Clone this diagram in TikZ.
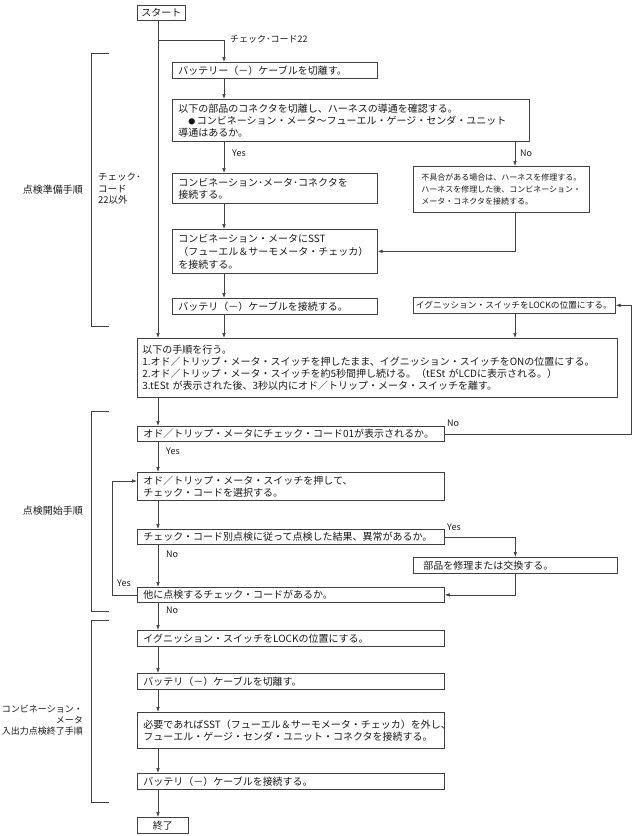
\documentclass[tikz,border=0pt]{standalone}
\usepackage{fontspec}
\setmainfont{Noto Sans CJK JP}
\usetikzlibrary{arrows.meta}
\newcommand\myfs{\fontsize{10}{12}\selectfont}
\newcommand\mysmall{\fontsize{8}{12}\selectfont}
\newcommand\mylab{\fontsize{9}{11}\selectfont}
\newcommand\boxat[7][]{%
  \pgfmathsetmacro\bxw{#5-#3-12}%
  \pgfmathsetmacro\bxh{#6-#4}%
  \node[bx, text width=\bxw pt, minimum height=\bxh pt, #1] (#2) at (#3,#4) {#7};}
\tikzset{
  ln/.style={draw=black!75, line width=0.7pt},
  arr/.style={ln, -{Latex[length=5pt,width=3.6pt]}},
  bx/.style={draw=black!75, line width=0.7pt, anchor=north west, align=left,
    inner xsep=6pt, inner ysep=0pt, font=\myfs, text=black!90},
  term/.style={draw=black!75, line width=0.7pt, anchor=north west, align=center,
    inner sep=0pt, font=\myfs, text=black!90},
  lbl/.style={font=\mylab, inner sep=0pt, text=black!90},
}
\begin{document}
\begin{tikzpicture}[x=1pt,y=-1pt]
\useasboundingbox (0,0) rectangle (634,836);
% column coordinates
\coordinate (cA) at (158,0);
\coordinate (cB) at (224,0);
\coordinate (cC) at (515,0);
\coordinate (cR) at (631,0);
\coordinate (cL) at (112,481);
\coordinate (j22) at (158,40);
% boxes
\node[term, minimum width=48pt, minimum height=15pt] (start) at (137,5) {スタート};
\boxat{bat1}{172}{62}{377}{78}{バッテリー（－）ケーブルを切離す。}
\boxat{chk}{172}{99}{529}{141}{以下の部品のコネクタを切離し、ハーネスの導通を確認する。\\\hspace*{1em}{\fontsize{7}{12}\selectfont ●}\hspace{0.15em}コンビネーション・メータ〜フューエル・ゲージ・センダ・ユニット\\導通はあるか。}
\boxat{con}{172}{173}{377}{203}{コンビネーション･メータ･コネクタを\\接続する。}
\boxat[inner xsep=8pt, text width=160pt, font=\mysmall]{fix}{413}{166}{589}{212}{不具合がある場合は、ハーネスを修理する。\\ハーネスを修理した後、コンビネーション・\\メータ・コネクタを接続する。}
\boxat[font=\fontsize{10}{13}\selectfont]{sst}{172}{229}{377}{273}{コンビネーション・メータにSST\\（フューエル＆サーモメータ・チェッカ）\\を接続する。}
\boxat{bat2}{172}{298}{377}{314}{バッテリ（－）ケーブルを接続する。}
\boxat[inner xsep=2.5pt, text width=197pt, font=\fontsize{8.7}{12}\selectfont]{lock}{413}{297}{615}{313}{イグニッション・スイッチをLOCKの位置にする。}
\boxat[inner xsep=5pt, text width=470pt]{proc}{137}{338}{617}{397}{以下の手順を行う。\\1.オド／トリップ・メータ・スイッチを押したまま、イグニッション・スイッチをONの位置にする。\\2.オド／トリップ・メータ・スイッチを約5秒間押し続ける。（tESt がLCDに表示される。）\\3.tESt が表示された後、3秒以内にオド／トリップ・メータ・スイッチを離す。}
\boxat{disp}{137}{426}{444}{441}{オド／トリップ・メータにチェック・コード01が表示されるか。}
\boxat{sel}{137}{472}{444}{500}{オド／トリップ・メータ・スイッチを押して、\\チェック・コードを選択する。}
\boxat{res}{137}{529}{444}{544}{チェック・コード別点検に従って点検した結果、異常があるか。}
\boxat[inner xsep=10pt, text width=184pt]{parts}{413}{557}{617}{573}{部品を修理または交換する。}
\boxat{other}{137}{587}{444}{602}{他に点検するチェック・コードがあるか。}
\boxat{ign}{137}{630}{444}{646}{イグニッション・スイッチをLOCKの位置にする。}
\boxat{bat3}{137}{673}{444}{689}{バッテリ（－）ケーブルを切離す。}
\boxat{sst2}{137}{712}{444}{748}{必要であればSST（フューエル＆サーモメータ・チェッカ）を外し、\\フューエル・ゲージ・センダ・ユニット・コネクタを接続する。}
\boxat{bat4}{137}{773}{444}{789}{バッテリ（－）ケーブルを接続する。}
\node[term, minimum width=51pt, minimum height=16pt] (end) at (137,817) {終了};
% connectors
\draw[arr] (start.south -| cA) -- (proc.north -| cA);
\draw[arr] (j22) -| (bat1.north -| cB);
\node[lbl, anchor=west] (l22) at (230,39) {チェック･コード22};
\draw[arr] (bat1.south -| cB) -- (chk.north -| cB);
\draw[arr] (chk.south -| cB) -- (con.north -| cB);
\node[lbl, anchor=west] (ly1) at (232,153) {Yes};
\draw[arr] (chk.south -| cC) -- (fix.north -| cC);
\node[lbl, anchor=west] (ln1) at (520,153) {No};
\draw[arr] (con.south -| cB) -- (sst.north -| cB);
\draw[arr] (fix.south -| cC) |- (sst.east);
\draw[arr] (sst.south -| cB) -- (bat2.north -| cB);
\draw[arr] (bat2.south -| cB) -- (proc.north -| cB);
\draw[arr] (lock.south -| cC) -- (proc.north -| cC);
\draw[arr] (proc.south -| cA) -- (disp.north -| cA);
\draw[arr] (disp.east) -| (cR |- lock.east) -- (lock.east);
\node[lbl, anchor=west] (ln2) at (447,423) {No};
\draw[arr] (disp.south -| cA) -- (sel.north -| cA);
\node[lbl, anchor=west] (ly2) at (166,451) {Yes};
\draw[arr] (sel.south -| cA) -- (res.north -| cA);
\draw[arr] (res.east) -| (parts.north);
\node[lbl, anchor=west] (ly3) at (447,527) {Yes};
\draw[arr] (res.south -| cA) -- (other.north -| cA);
\node[lbl, anchor=west] (ln3) at (166,554) {No};
\draw[arr] (parts.south) |- (other.east);
\draw[arr] (other.west) -| (cL) -- (cL -| sel.west);
\node[lbl, anchor=west] (ly4) at (117,583) {Yes};
\draw[arr] (other.south -| cA) -- (ign.north -| cA);
\node[lbl, anchor=west] (ln4) at (166,610) {No};
\draw[arr] (ign.south -| cA) -- (bat3.north -| cA);
\draw[arr] (bat3.south -| cA) -- (sst2.north -| cA);
\draw[arr] (sst2.south -| cA) -- (bat4.north -| cA);
\draw[arr] (bat4.south -| cA) -- (end.north -| cA);
% brackets
\draw[ln] (109,53) -- (91,53) -- (91,326) -- (109,326);
\draw[ln] (109,411) -- (91,411) -- (91,611) -- (109,611);
\draw[ln] (109,620) -- (91,620) -- (91,802) -- (109,802);
\node[lbl, anchor=east, font=\myfs] (g1) at (83,190) {点検準備手順};
\node[lbl, anchor=west, align=left, font=\fontsize{9.5}{11.5}\selectfont] (g1b) at (98,189) {チェック･\\コード\\22以外};
\node[lbl, anchor=east, font=\myfs] (g2) at (83,511) {点検開始手順};
\node[lbl, anchor=east, align=right] (g3) at (83,720) {コンビネーション・\\メータ\\入出力点検終了手順};
\end{tikzpicture}
\end{document}
